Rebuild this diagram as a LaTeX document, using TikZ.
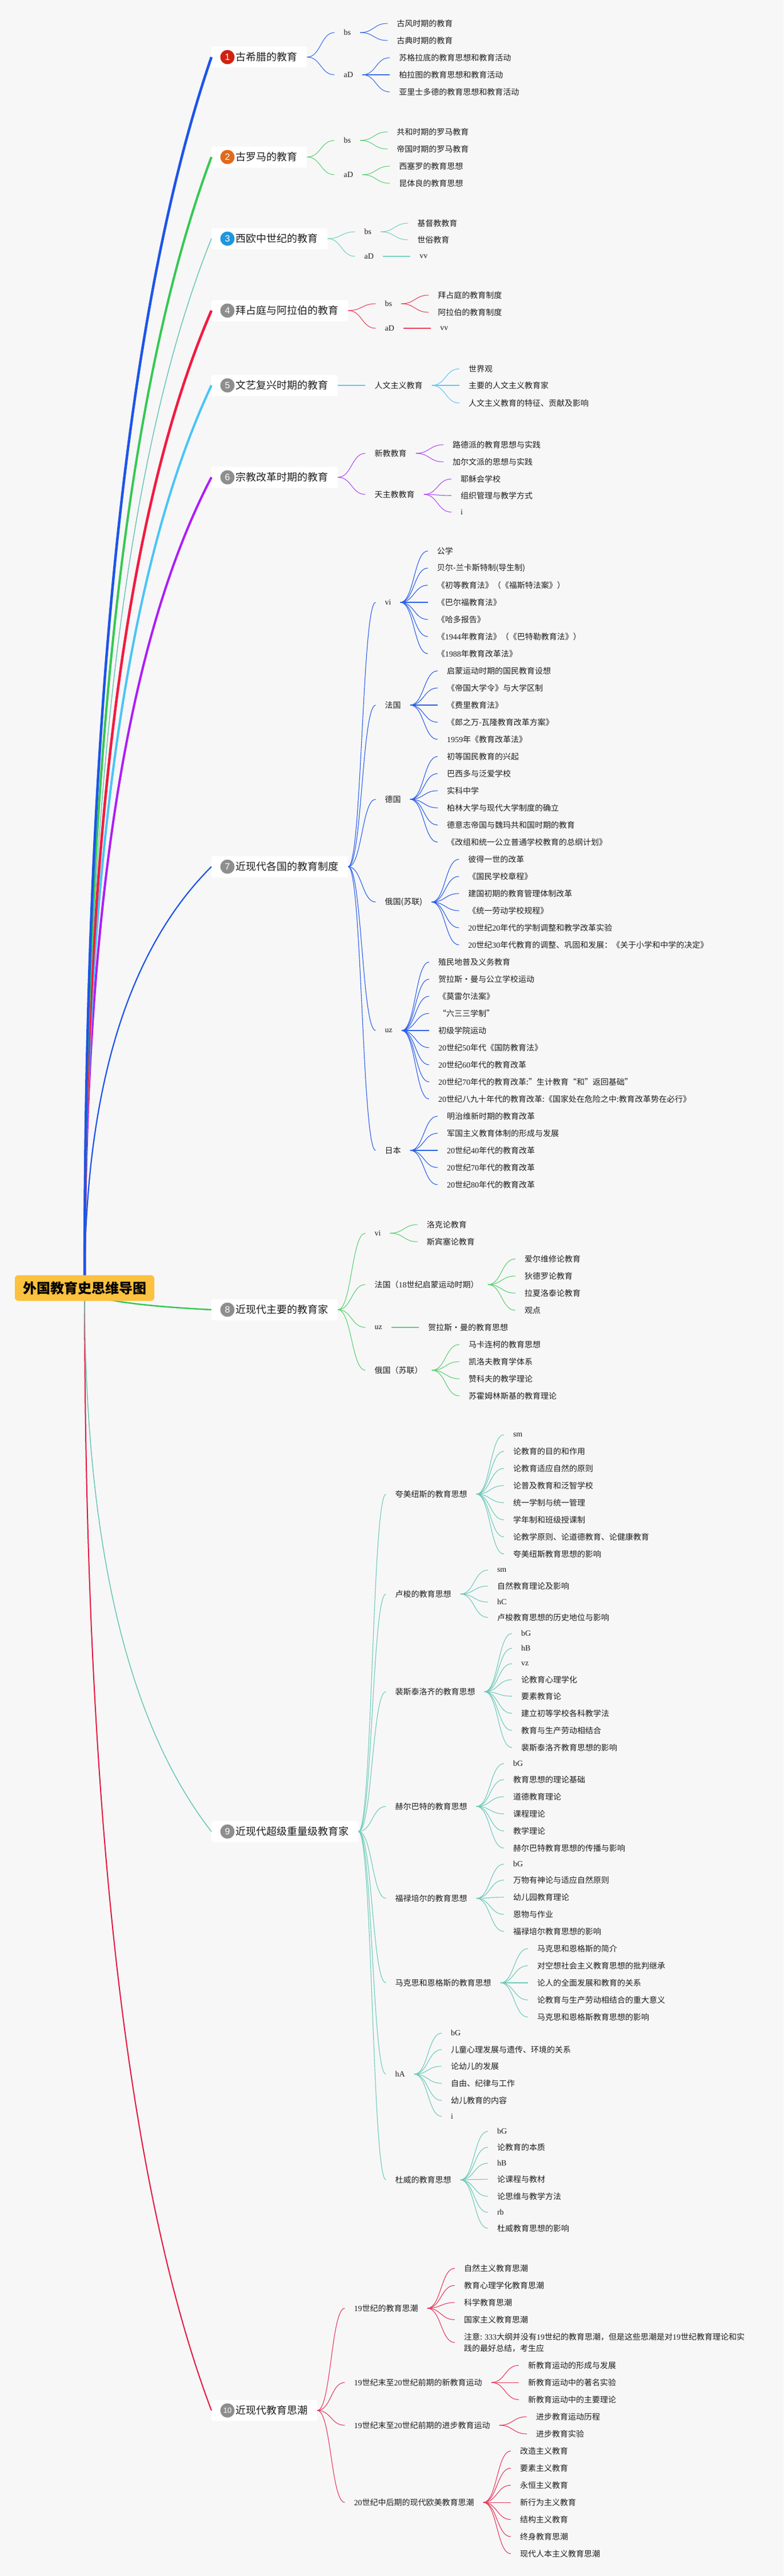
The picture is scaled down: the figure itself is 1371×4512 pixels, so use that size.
\documentclass[tikz,border=0pt]{standalone}
\usepackage{fontspec}
\setmainfont{Liberation Serif}
\newfontfamily\cjk{Noto Sans CJK SC}
\newfontfamily\latf{Liberation Serif}
\newfontfamily\numf{Liberation Sans}
\usetikzlibrary{calc}
\definecolor{bgc}{HTML}{F7F7F8}
\definecolor{txt}{HTML}{1E1E1E}
\definecolor{rootc}{HTML}{FCC13E}
\definecolor{n1}{HTML}{D0220F}
\definecolor{n2}{HTML}{E2691A}
\definecolor{n3}{HTML}{1E96DC}
\definecolor{ng}{HTML}{8E8E8E}
\definecolor{mk1}{HTML}{1C55E8}\definecolor{k1}{HTML}{3F6FE3}
\definecolor{mk2}{HTML}{36C853}\definecolor{k2}{HTML}{5ED272}
\definecolor{mk3}{HTML}{6BC5B3}\definecolor{k3}{HTML}{7ACFC0}
\definecolor{mk4}{HTML}{F21B3F}\definecolor{k4}{HTML}{EB3F5A}
\definecolor{mk5}{HTML}{4BC4F6}\definecolor{k5}{HTML}{62C8F2}
\definecolor{mk6}{HTML}{AE1EF5}\definecolor{k6}{HTML}{B04BEF}
\definecolor{mk7}{HTML}{1C55E8}\definecolor{k7}{HTML}{2B5FE6}
\definecolor{mk8}{HTML}{36C853}\definecolor{k8}{HTML}{5BD070}
\definecolor{mk9}{HTML}{6BC5B3}\definecolor{k9}{HTML}{6ECAB8}
\definecolor{mk10}{HTML}{E3163F}\definecolor{k10}{HTML}{E53A5C}
\newcommand\nm[1]{{\latf #1}}
\tikzset{
  mainbox/.style={fill=white, rounded corners=3pt, inner xsep=17pt, inner ysep=0pt, minimum height=37pt, anchor=west, text=txt, font=\cjk\fontsize{18pt}{22pt}\selectfont},
  numc/.style={circle, fill=#1, text=white, inner sep=0pt, minimum size=25pt, font=\numf\fontsize{16pt}{16pt}\selectfont},
  sub/.style={anchor=west, inner xsep=16pt, inner ysep=1pt, text=txt, font=\cjk\fontsize{14pt}{20pt}\selectfont},
  lat/.style={font=\latf\fontsize{14pt}{20pt}\selectfont},
  sl/.style={line width=1.1pt},
  rootbox/.style={fill=rootc, rounded corners=6pt, inner xsep=14pt, minimum height=45pt, minimum width=244pt, text=black, font=\cjk\bfseries\fontsize{24pt}{28pt}\selectfont}
}
\newcommand\kid[6][]{%
  \path (#2.east) ++(48pt,0) coordinate (t#3);
  \node[sub,#1] (#3) at (t#3 |- 0,#4) {#5};
  \draw[sl,draw=#6] (#2.east) .. controls ($(#2.east)!0.5!(#2.east -| #3.west)$) and ($(#3.west)!0.5!(#3.west -| #2.east)$) .. (#3.west);
}
\newcommand\mnode[5]{%
  \node[mainbox] (#1) at (370,#2) {\hspace*{25pt}#5};
  \node[numc=#3] (#1n) at ($(#1.west)+(28pt,0)$) {#4};
}
\newcommand\mlink[3]{%
  \coordinate (q#1) at ($(rc)!0.7!(rc |- #1.west)$);
  \draw[draw=#2, line width=#3] (rc) .. controls ($(rc)!0.6667!(q#1)$) and ($(#1.west)!0.6667!(q#1)$) .. (#1.west);
}
\begin{document}
\begin{tikzpicture}[x=1pt,y=-1pt]
\useasboundingbox (0,0) rectangle (1371,4512);
\fill[bgc] (0,0) rectangle (1371,4512);
\coordinate (rc) at (148,2256);

% ---------- 1
\mnode{m1}{100}{n1}{1}{古希腊的教育}
\kid[lat]{m1}{p1a}{57}{bs}{k1}
\kid{p1a}{p1a1}{41}{古风时期的教育}{k1}
\kid{p1a}{p1a2}{71}{古典时期的教育}{k1}
\kid[lat]{m1}{p1b}{131}{aD}{k1}
\kid{p1b}{p1b1}{101}{苏格拉底的教育思想和教育活动}{k1}
\kid{p1b}{p1b2}{131}{柏拉图的教育思想和教育活动}{k1}
\kid{p1b}{p1b3}{161}{亚里士多德的教育思想和教育活动}{k1}

% ---------- 2
\mnode{m2}{275}{n2}{2}{古罗马的教育}
\kid[lat]{m2}{p2a}{246}{bs}{k2}
\kid{p2a}{p2a1}{231}{共和时期的罗马教育}{k2}
\kid{p2a}{p2a2}{261}{帝国时期的罗马教育}{k2}
\kid[lat]{m2}{p2b}{306}{aD}{k2}
\kid{p2b}{p2b1}{291}{西塞罗的教育思想}{k2}
\kid{p2b}{p2b2}{321}{昆体良的教育思想}{k2}

% ---------- 3
\mnode{m3}{418}{n3}{3}{西欧中世纪的教育}
\kid[lat]{m3}{p3a}{406}{bs}{k3}
\kid{p3a}{p3a1}{391}{基督教教育}{k3}
\kid{p3a}{p3a2}{420}{世俗教育}{k3}
\kid[lat]{m3}{p3b}{449}{aD}{k3}
\kid[lat]{p3b}{p3b1}{449}{vv}{k3}

% ---------- 4
\mnode{m4}{544}{ng}{4}{拜占庭与阿拉伯的教育}
\kid[lat]{m4}{p4a}{532}{bs}{k4}
\kid{p4a}{p4a1}{517}{拜占庭的教育制度}{k4}
\kid{p4a}{p4a2}{547}{阿拉伯的教育制度}{k4}
\kid[lat]{m4}{p4b}{575}{aD}{k4}
\kid[lat]{p4b}{p4b1}{575}{vv}{k4}

% ---------- 5
\mnode{m5}{675}{ng}{5}{文艺复兴时期的教育}
\kid{m5}{p5a}{675}{人文主义教育}{k5}
\kid{p5a}{p5a1}{646}{世界观}{k5}
\kid{p5a}{p5a2}{675}{主要的人文主义教育家}{k5}
\kid{p5a}{p5a3}{706}{人文主义教育的特征、贡献及影响}{k5}

% ---------- 6
\mnode{m6}{836}{ng}{6}{宗教改革时期的教育}
\kid{m6}{p6a}{794}{新教教育}{k6}
\kid{p6a}{p6a1}{779}{路德派的教育思想与实践}{k6}
\kid{p6a}{p6a2}{809}{加尔文派的思想与实践}{k6}
\kid{m6}{p6b}{866}{天主教教育}{k6}
\kid{p6b}{p6b1}{839}{耶稣会学校}{k6}
\kid{p6b}{p6b2}{868}{组织管理与教学方式}{k6}
\kid[lat]{p6b}{p6b3}{897}{i}{k6}

% ---------- 7
\mnode{m7}{1518}{ng}{7}{近现代各国的教育制度}
\kid[lat]{m7}{p7a}{1055}{vi}{k7}
\kid{p7a}{p7a1}{965}{公学}{k7}
\kid{p7a}{p7a2}{995}{贝尔-兰卡斯特制(导生制)}{k7}
\kid{p7a}{p7a3}{1025}{《初等教育法》（《福斯特法案》）}{k7}
\kid{p7a}{p7a4}{1055}{《巴尔福教育法》}{k7}
\kid{p7a}{p7a5}{1085}{《哈多报告》}{k7}
\kid{p7a}{p7a6}{1115}{《\nm{1944}年教育法》（《巴特勒教育法》）}{k7}
\kid{p7a}{p7a7}{1145}{《\nm{1988}年教育改革法》}{k7}
\kid{m7}{p7b}{1235}{法国}{k7}
\kid{p7b}{p7b1}{1175}{启蒙运动时期的国民教育设想}{k7}
\kid{p7b}{p7b2}{1205}{《帝国大学令》与大学区制}{k7}
\kid{p7b}{p7b3}{1235}{《费里教育法》}{k7}
\kid{p7b}{p7b4}{1265}{《郎之万-瓦隆教育改革方案》}{k7}
\kid{p7b}{p7b5}{1295}{\nm{1959}年《教育改革法》}{k7}
\kid{m7}{p7c}{1400}{德国}{k7}
\kid{p7c}{p7c1}{1325}{初等国民教育的兴起}{k7}
\kid{p7c}{p7c2}{1355}{巴西多与泛爱学校}{k7}
\kid{p7c}{p7c3}{1385}{实科中学}{k7}
\kid{p7c}{p7c4}{1415}{柏林大学与现代大学制度的确立}{k7}
\kid{p7c}{p7c5}{1445}{德意志帝国与魏玛共和国时期的教育}{k7}
\kid{p7c}{p7c6}{1475}{《改组和统一公立普通学校教育的总纲计划》}{k7}
\kid{m7}{p7d}{1580}{俄国(苏联)}{k7}
\kid{p7d}{p7d1}{1505}{彼得一世的改革}{k7}
\kid{p7d}{p7d2}{1535}{《国民学校章程》}{k7}
\kid{p7d}{p7d3}{1565}{建国初期的教育管理体制改革}{k7}
\kid{p7d}{p7d4}{1595}{《统一劳动学校规程》}{k7}
\kid{p7d}{p7d5}{1625}{\nm{20}世纪\nm{20}年代的学制调整和教学改革实验}{k7}
\kid{p7d}{p7d6}{1655}{\nm{20}世纪\nm{30}年代教育的调整、巩固和发展：《关于小学和中学的决定》}{k7}
\kid[lat]{m7}{p7e}{1805}{uz}{k7}
\kid{p7e}{p7e1}{1685}{殖民地普及义务教育}{k7}
\kid{p7e}{p7e2}{1715}{贺拉斯·曼与公立学校运动}{k7}
\kid{p7e}{p7e3}{1745}{《莫雷尔法案》}{k7}
\kid{p7e}{p7e4}{1775}{“六三三学制”}{k7}
\kid{p7e}{p7e5}{1805}{初级学院运动}{k7}
\kid{p7e}{p7e6}{1835}{\nm{20}世纪\nm{50}年代《国防教育法》}{k7}
\kid{p7e}{p7e7}{1865}{\nm{20}世纪\nm{60}年代的教育改革}{k7}
\kid{p7e}{p7e8}{1895}{\nm{20}世纪\nm{70}年代的教育改革:”生计教育“和”返回基础”}{k7}
\kid{p7e}{p7e9}{1925}{\nm{20}世纪八九十年代的教育改革:《国家处在危险之中:教育改革势在必行》}{k7}
\kid{m7}{p7f}{2015}{日本}{k7}
\kid{p7f}{p7f1}{1955}{明治维新时期的教育改革}{k7}
\kid{p7f}{p7f2}{1985}{军国主义教育体制的形成与发展}{k7}
\kid{p7f}{p7f3}{2015}{\nm{20}世纪\nm{40}年代的教育改革}{k7}
\kid{p7f}{p7f4}{2045}{\nm{20}世纪\nm{70}年代的教育改革}{k7}
\kid{p7f}{p7f5}{2075}{\nm{20}世纪\nm{80}年代的教育改革}{k7}

% ---------- 8
\mnode{m8}{2294}{ng}{8}{近现代主要的教育家}
\kid[lat]{m8}{p8a}{2160}{vi}{k8}
\kid{p8a}{p8a1}{2145}{洛克论教育}{k8}
\kid{p8a}{p8a2}{2175}{斯宾塞论教育}{k8}
\kid{m8}{p8b}{2250}{法国（\nm{18}世纪启蒙运动时期）}{k8}
\kid{p8b}{p8b1}{2205}{爱尔维修论教育}{k8}
\kid{p8b}{p8b2}{2235}{狄德罗论教育}{k8}
\kid{p8b}{p8b3}{2265}{拉夏洛泰论教育}{k8}
\kid{p8b}{p8b4}{2295}{观点}{k8}
\kid[lat]{m8}{p8c}{2325}{uz}{k8}
\kid{p8c}{p8c1}{2325}{贺拉斯·曼的教育思想}{k8}
\kid{m8}{p8d}{2400}{俄国（苏联）}{k8}
\kid{p8d}{p8d1}{2355}{马卡连柯的教育思想}{k8}
\kid{p8d}{p8d2}{2385}{凯洛夫教育学体系}{k8}
\kid{p8d}{p8d3}{2415}{赞科夫的教学理论}{k8}
\kid{p8d}{p8d4}{2445}{苏霍姆林斯基的教育理论}{k8}

% ---------- 9
\mnode{m9}{3208}{ng}{9}{近现代超级重量级教育家}
\kid{m9}{p9a}{2617}{夸美纽斯的教育思想}{k9}
\kid[lat]{p9a}{p9a1}{2513}{sm}{k9}
\kid{p9a}{p9a2}{2542}{论教育的目的和作用}{k9}
\kid{p9a}{p9a3}{2572}{论教育适应自然的原则}{k9}
\kid{p9a}{p9a4}{2602}{论普及教育和泛智学校}{k9}
\kid{p9a}{p9a5}{2632}{统一学制与统一管理}{k9}
\kid{p9a}{p9a6}{2662}{学年制和班级授课制}{k9}
\kid{p9a}{p9a7}{2692}{论教学原则、论道德教育、论健康教育}{k9}
\kid{p9a}{p9a8}{2722}{夸美纽斯教育思想的影响}{k9}
\kid{m9}{p9b}{2792}{卢梭的教育思想}{k9}
\kid[lat]{p9b}{p9b1}{2750}{sm}{k9}
\kid{p9b}{p9b2}{2778}{自然教育理论及影响}{k9}
\kid[lat]{p9b}{p9b3}{2806}{hC}{k9}
\kid{p9b}{p9b4}{2833}{卢梭教育思想的历史地位与影响}{k9}
\kid{m9}{p9c}{2963}{裴斯泰洛齐的教育思想}{k9}
\kid[lat]{p9c}{p9c1}{2861}{bG}{k9}
\kid[lat]{p9c}{p9c2}{2887}{hB}{k9}
\kid[lat]{p9c}{p9c3}{2914}{vz}{k9}
\kid{p9c}{p9c4}{2942}{论教育心理学化}{k9}
\kid{p9c}{p9c5}{2971}{要素教育论}{k9}
\kid{p9c}{p9c6}{3001}{建立初等学校各科教学法}{k9}
\kid{p9c}{p9c7}{3031}{教育与生产劳动相结合}{k9}
\kid{p9c}{p9c8}{3061}{裴斯泰洛齐教育思想的影响}{k9}
\kid{m9}{p9d}{3164}{赫尔巴特的教育思想}{k9}
\kid[lat]{p9d}{p9d1}{3089}{bG}{k9}
\kid{p9d}{p9d2}{3117}{教育思想的理论基础}{k9}
\kid{p9d}{p9d3}{3147}{道德教育理论}{k9}
\kid{p9d}{p9d4}{3177}{课程理论}{k9}
\kid{p9d}{p9d5}{3207}{教学理论}{k9}
\kid{p9d}{p9d6}{3237}{赫尔巴特教育思想的传播与影响}{k9}
\kid{m9}{p9e}{3325}{福禄培尔的教育思想}{k9}
\kid[lat]{p9e}{p9e1}{3265}{bG}{k9}
\kid{p9e}{p9e2}{3293}{万物有神论与适应自然原则}{k9}
\kid{p9e}{p9e3}{3323}{幼儿园教育理论}{k9}
\kid{p9e}{p9e4}{3353}{恩物与作业}{k9}
\kid{p9e}{p9e5}{3383}{福禄培尔教育思想的影响}{k9}
\kid{m9}{p9f}{3473}{马克思和恩格斯的教育思想}{k9}
\kid{p9f}{p9f1}{3413}{马克思和恩格斯的简介}{k9}
\kid{p9f}{p9f2}{3443}{对空想社会主义教育思想的批判继承}{k9}
\kid{p9f}{p9f3}{3473}{论人的全面发展和教育的关系}{k9}
\kid{p9f}{p9f4}{3503}{论教育与生产劳动相结合的重大意义}{k9}
\kid{p9f}{p9f5}{3533}{马克思和恩格斯教育思想的影响}{k9}
\kid[lat]{m9}{p9g}{3633}{hA}{k9}
\kid[lat]{p9g}{p9g1}{3561}{bG}{k9}
\kid{p9g}{p9g2}{3590}{儿童心理发展与遗传、环境的关系}{k9}
\kid{p9g}{p9g3}{3619}{论幼儿的发展}{k9}
\kid{p9g}{p9g4}{3649}{自由、纪律与工作}{k9}
\kid{p9g}{p9g5}{3679}{幼儿教育的内容}{k9}
\kid[lat]{p9g}{p9g6}{3707}{i}{k9}
\kid{m9}{p9h}{3818}{杜威的教育思想}{k9}
\kid[lat]{p9h}{p9h1}{3733}{bG}{k9}
\kid{p9h}{p9h2}{3761}{论教育的本质}{k9}
\kid[lat]{p9h}{p9h3}{3789}{hB}{k9}
\kid{p9h}{p9h4}{3817}{论课程与教材}{k9}
\kid{p9h}{p9h5}{3847}{论思维与教学方法}{k9}
\kid[lat]{p9h}{p9h6}{3875}{rb}{k9}
\kid{p9h}{p9h7}{3903}{杜威教育思想的影响}{k9}

% ---------- 10
\mnode{m10}{4222}{ng}{{\fontsize{13pt}{13pt}\selectfont 10}}{近现代教育思潮}
\kid{m10}{p10a}{4043}{\nm{19}世纪的教育思潮}{k10}
\kid{p10a}{p10a1}{3973}{自然主义教育思潮}{k10}
\kid{p10a}{p10a2}{4003}{教育心理学化教育思潮}{k10}
\kid{p10a}{p10a3}{4033}{科学教育思潮}{k10}
\kid{p10a}{p10a4}{4063}{国家主义教育思潮}{k10}
\kid[align=left]{p10a}{p10a5}{4103}{注意: \nm{333}大纲并没有\nm{19}世纪的教育思潮，但是这些思潮是对\nm{19}世纪教育理论和实\\践的最好总结，考生应}{k10}
\kid{m10}{p10b}{4173}{\nm{19}世纪末至\nm{20}世纪前期的新教育运动}{k10}
\kid{p10b}{p10b1}{4143}{新教育运动的形成与发展}{k10}
\kid{p10b}{p10b2}{4173}{新教育运动中的著名实验}{k10}
\kid{p10b}{p10b3}{4203}{新教育运动中的主要理论}{k10}
\kid{m10}{p10c}{4248}{\nm{19}世纪末至\nm{20}世纪前期的进步教育运动}{k10}
\kid{p10c}{p10c1}{4233}{进步教育运动历程}{k10}
\kid{p10c}{p10c2}{4263}{进步教育实验}{k10}
\kid{m10}{p10d}{4383}{\nm{20}世纪中后期的现代欧美教育思潮}{k10}
\kid{p10d}{p10d1}{4293}{改造主义教育}{k10}
\kid{p10d}{p10d2}{4323}{要素主义教育}{k10}
\kid{p10d}{p10d3}{4353}{永恒主义教育}{k10}
\kid{p10d}{p10d4}{4383}{新行为主义教育}{k10}
\kid{p10d}{p10d5}{4413}{结构主义教育}{k10}
\kid{p10d}{p10d6}{4443}{终身教育思潮}{k10}
\kid{p10d}{p10d7}{4473}{现代人本主义教育思潮}{k10}

% ---------- main links
\mlink{m10}{mk10}{2pt}
\mlink{m9}{mk9}{1.5pt}
\mlink{m8}{mk8}{2.5pt}
\mlink{m7}{mk7}{2.2pt}
\mlink{m6}{mk6}{4pt}
\mlink{m5}{mk5}{4pt}
\mlink{m4}{mk4}{4.5pt}
\mlink{m3}{mk3}{1.5pt}
\mlink{m2}{mk2}{4pt}
\mlink{m1}{mk1}{4.5pt}

\node[rootbox] (root) at (rc) {外国教育史思维导图};
\end{tikzpicture}
\end{document}
